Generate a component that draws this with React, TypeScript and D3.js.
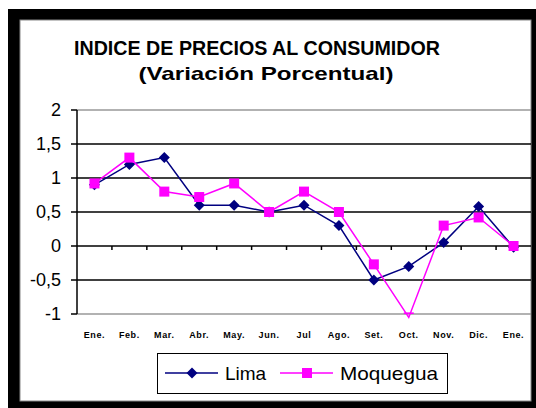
import React from "react";
import * as d3 from "d3";

const months = ["Ene.", "Feb.", "Mar.", "Abr.", "May.", "Jun.", "Jul", "Ago.", "Set.", "Oct.", "Nov.", "Dic.", "Ene."];
const lima = [0.9, 1.2, 1.3, 0.6, 0.6, 0.5, 0.6, 0.3, -0.5, -0.3, 0.05, 0.58, -0.02];
const moquegua = [0.92, 1.3, 0.8, 0.72, 0.92, 0.5, 0.8, 0.5, -0.27, -1.05, 0.3, 0.42, 0.0];
const yTicks = [2, 1.5, 1, 0.5, 0, -0.5, -1];
const titleLine1 = "INDICE DE PRECIOS AL CONSUMIDOR";
const titleLine2 = "(Variación Porcentual)";

const W = 536;
const H = 408;
const plotLeft = 77;
const plotRight = 531;
const plotTop = 110;
const plotBottom = 314;

const diamond = (s: number) => `M0,${-s}L${s},0L0,${s}L${-s},0Z`;

export default function App() {
  const x = d3.scaleBand<number>().domain(d3.range(months.length)).range([plotLeft, plotRight]).padding(0);
  const y = d3.scaleLinear().domain([-1, 2]).range([plotBottom, plotTop]);
  const cx = (i: number) => (x(i) as number) + x.bandwidth() / 2;
  const line = d3.line<number>().x((_, i) => cx(i)).y((d) => y(d));
  const fmt = (v: number) => String(v).replace(".", ",");
  const font = "'Liberation Sans', Arial, sans-serif";

  return (
    <svg width={W} height={H} style={{ position: "absolute", left: 0, top: 0 }}>
      <defs>
        <clipPath id="plotClip">
          <rect x={plotLeft} y={plotTop - 8} width={plotRight - plotLeft} height={plotBottom - plotTop + 8} />
        </clipPath>
      </defs>
      <rect x={0} y={0} width={W} height={H} fill="#fff" />
      <rect x={8} y={9} width={W - 8} height={H - 9} fill="#000" />
      <rect x={20} y={20} width={511} height={381} fill="#fff" stroke="#888" strokeWidth={1} />

      <text x={257} y={55} textAnchor="middle" fontFamily={font} fontWeight="bold" fontSize={20}
        textLength={366} lengthAdjust="spacingAndGlyphs" fill="#000">{titleLine1}</text>
      <text x={266} y={80} textAnchor="middle" fontFamily={font} fontWeight="bold" fontSize={19}
        textLength={255} lengthAdjust="spacingAndGlyphs" fill="#000">{titleLine2}</text>

      {yTicks.map((t) => (
        <line key={"g" + t} x1={plotLeft} x2={plotRight} y1={y(t)} y2={y(t)}
          stroke={t === 2 || t === -1 ? "#999" : "#000"} strokeWidth={1.5} />
      ))}
      <line x1={plotLeft} x2={plotLeft} y1={plotTop} y2={plotBottom} stroke="#000" strokeWidth={1.5} />
      {yTicks.map((t) => (
        <g key={"yt" + t}>
          <line x1={plotLeft - 6} x2={plotLeft} y1={y(t)} y2={y(t)} stroke="#000" strokeWidth={1.5} />
          <text x={61} y={y(t) + 6} textAnchor="end" fontFamily={font} fontSize={18} fill="#000">{fmt(t)}</text>
        </g>
      ))}
      {d3.range(1, months.length).map((i) => (
        <line key={"xt" + i} x1={x(i) as number} x2={x(i) as number} y1={y(0)} y2={y(0) + 4} stroke="#000" strokeWidth={1.5} />
      ))}
      {months.map((m, i) => (
        <text key={"m" + i} x={cx(i)} y={338} textAnchor="middle" fontFamily={font} fontWeight="bold" fontSize={9}
          letterSpacing={0.6} fill="#000">{m}</text>
      ))}

      <path d={line(lima) || ""} fill="none" stroke="#000080" strokeWidth={1.5} />
      <path d={line(moquegua) || ""} fill="none" stroke="#ff00ff" strokeWidth={1.5} />
      <g clipPath="url(#plotClip)">
        {lima.map((v, i) => (
          <path key={"l" + i} d={diamond(5.5)} transform={`translate(${cx(i)},${y(v)})`} fill="#000080" />
        ))}
        {moquegua.map((v, i) => (
          <rect key={"q" + i} x={cx(i) - 5} y={y(v) - 5} width={10} height={10} fill="#ff00ff" />
        ))}
      </g>

      <rect x={157.5} y={353.5} width={290} height={40} fill="#fff" stroke="#000" strokeWidth={1} />
      <line x1={165} x2={218} y1={373} y2={373} stroke="#000080" strokeWidth={1.5} />
      <path d={diamond(5.5)} transform="translate(192,373)" fill="#000080" />
      <text x={225} y={380} fontFamily={font} fontSize={19} fill="#000">Lima</text>
      <line x1={280} x2={333} y1={373} y2={373} stroke="#ff00ff" strokeWidth={1.5} />
      <rect x={302} y={368} width={10} height={10} fill="#ff00ff" />
      <text x={340} y={380} fontFamily={font} fontSize={19} fill="#000" textLength={98} lengthAdjust="spacingAndGlyphs">Moquegua</text>
    </svg>
  );
}
